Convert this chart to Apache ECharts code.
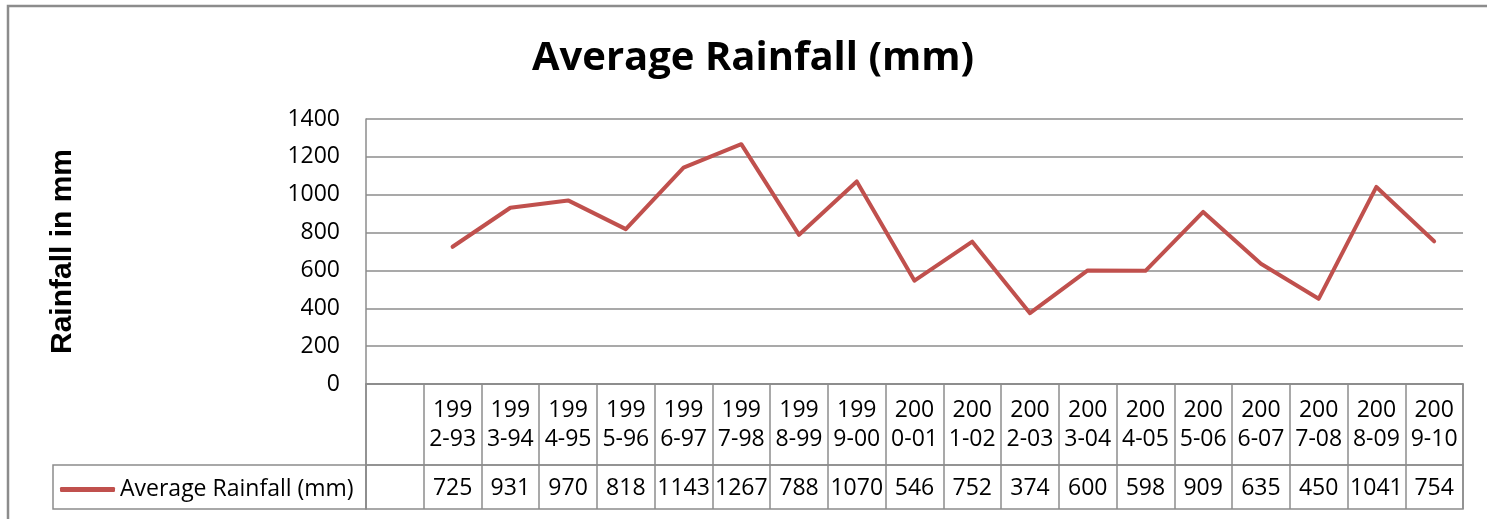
<html lang="en">
	<head>
		<meta charset="utf-8" />
		<title>Average Rainfall (mm)</title>
		<style>
			html,
			body {
				margin: 0;
				padding: 0;
				background: #fff;
			}
		</style>
	</head>

	<body>
		<div id="main" style="width: 1487px;height:519px;"></div>
	</body>
	<script src="https://cdn.jsdelivr.net/npm/echarts@6/dist/echarts.min.js"></script>
	<script type="text/javascript">
		// data
		let seasons = ['', '1992-93', '1993-94', '1994-95', '1995-96', '1996-97', '1997-98', '1998-99', '1999-00', '2000-01',
			'2001-02', '2002-03', '2003-04', '2004-05', '2005-06', '2006-07', '2007-08', '2008-09', '2009-10'];
		let rainfall = [null, 725, 931, 970, 818, 1143, 1267, 788, 1070, 546, 752, 374, 600, 598, 909, 635, 450, 1041, 754];
		let yTicks = [0, 200, 400, 600, 800, 1000, 1200, 1400];
		let seriesName = 'Average Rainfall (mm)';

		let gray = '#8c8c8c';
		let font = '"Open Sans", Calibri, sans-serif';

		var myChart = echarts.init(document.getElementById('main'));
		let option = {
			animation: false,
			backgroundColor: '#fff',
			title: {
				text: 'Average Rainfall (mm)',
				left: 748,
				top: 34,
				textAlign: 'center',
				textStyle: { fontFamily: font, fontWeight: 'bold', fontSize: 40, color: '#000' },
			},
			legend: {
				data: [seriesName],
				left: 55,
				top: 473,
				icon: 'roundRect',
				itemWidth: 55,
				itemHeight: 5,
				textStyle: { fontFamily: font, fontSize: 23, color: '#000' },
			},
			graphic: [
				// chart outer border
				{ type: 'rect', z: -1, shape: { x: 8, y: 6, width: 1520, height: 600 }, style: { fill: 'none', stroke: gray, lineWidth: 2.5 } },
				// legend cell of the data table
				{ type: 'rect', shape: { x: 53, y: 465, width: 313, height: 44 }, style: { fill: 'none', stroke: gray, lineWidth: 1.5 } },
			],
			grid: [
				{ left: 366, right: 24, top: 119, height: 265 },
				{ left: 366, right: 24, top: 384, height: 81, show: true, borderColor: gray, borderWidth: 1.5 },
				{ left: 366, right: 24, top: 465, height: 44, show: true, borderColor: gray, borderWidth: 1.5 },
			],
			xAxis: [
				{
					type: 'category',
					gridIndex: 0,
					data: seasons,
					boundaryGap: true,
					axisLine: { show: true, lineStyle: { color: gray, width: 1.5 } },
					axisTick: { show: false },
					axisLabel: { show: false },
				},
				{
					// header row of the table
					type: 'category',
					gridIndex: 1,
					position: 'top',
					data: seasons,
					boundaryGap: true,
					axisLine: { show: false },
					axisTick: { show: false },
					axisLabel: {
						inside: true,
						interval: 0,
						margin: 41,
						verticalAlign: 'middle',
						lineHeight: 29,
						fontFamily: font,
						fontSize: 23,
						color: '#000',
						formatter: function (v) {
							return v ? v.slice(0, 3) + '\n' + v.slice(3) : '';
						},
					},
					splitLine: { show: true, interval: 0, lineStyle: { color: gray, width: 1.5 } },
				},
				{
					// value row of the table
					type: 'category',
					gridIndex: 2,
					position: 'top',
					data: rainfall.map(function (v) {
						return v === null ? '' : String(v);
					}),
					boundaryGap: true,
					axisLine: { show: false },
					axisTick: { show: false },
					axisLabel: {
						inside: true,
						interval: 0,
						margin: 23,
						verticalAlign: 'middle',
						fontFamily: font,
						fontSize: 23,
						color: '#000',
					},
					splitLine: { show: true, interval: 0, lineStyle: { color: gray, width: 1.5 } },
				},
			],
			yAxis: [
				{
					type: 'value',
					gridIndex: 0,
					min: yTicks[0],
					max: yTicks[yTicks.length - 1],
					interval: 200,
					name: 'Rainfall in mm',
					nameLocation: 'middle',
					nameRotate: 90,
					nameGap: 288,
					nameTextStyle: { fontFamily: 'Liberation Sans, Arial, sans-serif', fontWeight: 'bold', fontSize: 30, color: '#000' },
					axisLine: { show: true, lineStyle: { color: gray, width: 1.5 } },
					axisTick: { show: false },
					axisLabel: {
						margin: 26,
						fontFamily: font,
						fontSize: 23,
						color: '#000',
						formatter: function (v) {
							return String(v);
						},
					},
					splitLine: { show: true, lineStyle: { color: gray, width: 1.5 } },
				},
				{ type: 'value', gridIndex: 1, show: false },
				{ type: 'value', gridIndex: 2, show: false },
			],
			series: [
				{
					name: seriesName,
					type: 'line',
					xAxisIndex: 0,
					yAxisIndex: 0,
					data: rainfall,
					showSymbol: false,
					symbol: 'none',
					itemStyle: { color: '#C0504D' },
					lineStyle: { color: '#C0504D', width: 4, cap: 'round', join: 'round' },
				},
			],
		};
		myChart.setOption(option);
	</script>
</html>
